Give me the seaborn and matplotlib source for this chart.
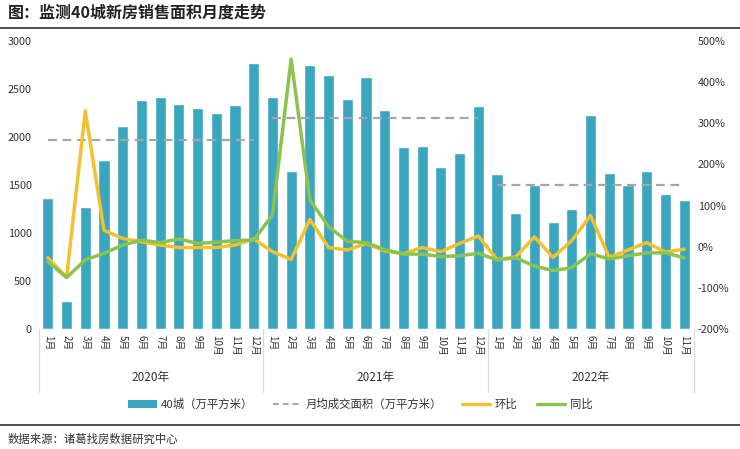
import matplotlib
matplotlib.use("Agg")
import matplotlib.pyplot as plt
import matplotlib.transforms as mtransforms
from matplotlib.lines import Line2D
from matplotlib.patches import Patch
import seaborn as sns
import pandas as pd
import numpy as np

sns.set_theme(style="white")
plt.rcParams['font.family'] = ['Noto Sans CJK SC', 'DejaVu Sans']
plt.rcParams['axes.unicode_minus'] = False

# ---------------- data ----------------
years = ["2020年", "2021年", "2022年"]
year_months = [12, 12, 11]
month_labels = ([f"{m}月" for m in range(1, 13)] + [f"{m}月" for m in range(1, 13)]
                + [f"{m}月" for m in range(1, 12)])

area = [1360, 290, 1270, 1760, 2115, 2390, 2417, 2344, 2302, 2247, 2333, 2771,
        2417, 1643, 2747, 2646, 2399, 2625, 2278, 1899, 1910, 1684, 1833, 2323,
        1615, 1208, 1500, 1115, 1253, 2226, 1625, 1500, 1643, 1410, 1344]
year_avg = [1970, 2200, 1495]
mom = [-27, -74, 330, 40, 20, 12, 4, -2, -2, -2, 4, 19,
       -12, -31, 66, -2, -8, 8, -10, -17, -2, -12, 8, 26,
       -31, -25, 24, -26, 15, 76, -26, -8, 10, -13, -6]
yoy = [-36, -75, -32, -16, 4, 16, 10, 19, 8, 11, 15, 16,
       77, 456, 114, 49, 13, 10, -7, -18, -18, -24, -22, -16,
       -32, -27, -47, -58, -51, -17, -30, -22, -15, -15, -27]

bar_label = "40城（万平方米）"
avg_label = "月均成交面积（万平方米）"
mom_label = "环比"
yoy_label = "同比"
title = "图：监测40城新房销售面积月度走势"
source = "数据来源：诸葛找房数据研究中心"

BAR_C = "#3AA6C0"
YEL_C = "#F2C12E"
GRN_C = "#8CC34F"
AVG_C = "#A6A6A6"

idx = np.arange(len(area))
df = pd.DataFrame({"idx": idx, "area": area, "mom": mom, "yoy": yoy})

# ---------------- figure ----------------
W, H = 740, 449
fig = plt.figure(figsize=(W / 100, H / 100), dpi=100)
L, R, T, B = 38.5, 693.5, 41, 329
ax = fig.add_axes([L / W, 1 - B / H, (R - L) / W, (B - T) / H])

sns.barplot(data=df, x="idx", y="area", color=BAR_C, width=0.6, ax=ax,
            saturation=1, zorder=2)
ax.set_xlim(-0.5, len(area) - 0.5)
ax.set_ylim(0, 3000)
ax.set_yticks(np.arange(0, 3001, 500))
ax.set_xticks(idx)
ax.set_xticklabels(month_labels, rotation=270, fontsize=7, color="#333333")
ax.set_xlabel("")
ax.set_ylabel("")
ax.tick_params(axis="y", labelsize=7.8, colors="#333333", length=0, pad=5)
ax.tick_params(axis="x", length=0, pad=4)
for s in ax.spines.values():
    s.set_visible(False)

# yearly average dashed lines
start = 0
for n, avg in zip(year_months, year_avg):
    xs = [start, start + n - 1]
    ax.plot(xs, [avg, avg], color=AVG_C, lw=1.6, ls=(0, (4, 2.5)), zorder=3)
    start += n

# twin axis lines
ax2 = ax.twinx()
sns.lineplot(data=df, x="idx", y="mom", color=YEL_C, lw=2.5, ax=ax2, zorder=4)
sns.lineplot(data=df, x="idx", y="yoy", color=GRN_C, lw=2.5, ax=ax2, zorder=5)
ax2.set_ylim(-200, 500)
ax2.set_yticks(np.arange(-200, 501, 100))
ax2.set_yticklabels([f"{v}%" for v in range(-200, 501, 100)])
ax2.tick_params(axis="y", labelsize=7.8, colors="#333333", length=0, pad=3)
ax2.set_xlabel("")
ax2.set_ylabel("")
ax2.set_xlim(-0.5, len(area) - 0.5)
for s in ax2.spines.values():
    s.set_visible(False)
ax2.grid(False)
ax.grid(False)

# multi-level category axis
trans = mtransforms.blended_transform_factory(ax.transData, ax.transAxes)
bounds = [-0.5]
start = 0
for n in year_months:
    start += n
    bounds.append(start - 0.5)
for b in bounds:
    ax.plot([b, b], [0, -0.22], transform=trans, color="#DADADA", lw=0.8,
            clip_on=False)
start = 0
for n, yr in zip(year_months, years):
    ax.text(start + (n - 1) / 2, -0.17, yr, transform=trans, ha="center",
            va="center", fontsize=8.5, color="#333333")
    start += n

# legend
handles = [Patch(facecolor=BAR_C, edgecolor="none"),
           Line2D([], [], color=AVG_C, lw=1.4, ls=(0, (3, 2))),
           Line2D([], [], color=YEL_C, lw=2.4),
           Line2D([], [], color=GRN_C, lw=2.4)]
fig.legend(handles, [bar_label, avg_label, mom_label, yoy_label],
           loc="center", bbox_to_anchor=(0.487, 1 - 404 / H), ncol=4,
           frameon=False, fontsize=8.2, handlelength=2.5, handleheight=0.7,
           columnspacing=1.7, handletextpad=0.4, labelcolor="#333333")

# title, rules, source
fig.text(8 / W, 1 - 13 / H, title, fontsize=11.5, fontweight="bold",
         color="#222222", ha="left", va="center")
fig.add_artist(Line2D([0, 1], [1 - 28 / H, 1 - 28 / H], color="#404040",
                      lw=1.3, transform=fig.transFigure))
fig.add_artist(Line2D([0, 1], [1 - 425 / H, 1 - 425 / H], color="#404040",
                      lw=1.3, transform=fig.transFigure))
fig.text(8 / W, 1 - 439 / H, source, fontsize=8.2, color="#333333",
         ha="left", va="center")

fig.savefig("out.png", dpi=100)
